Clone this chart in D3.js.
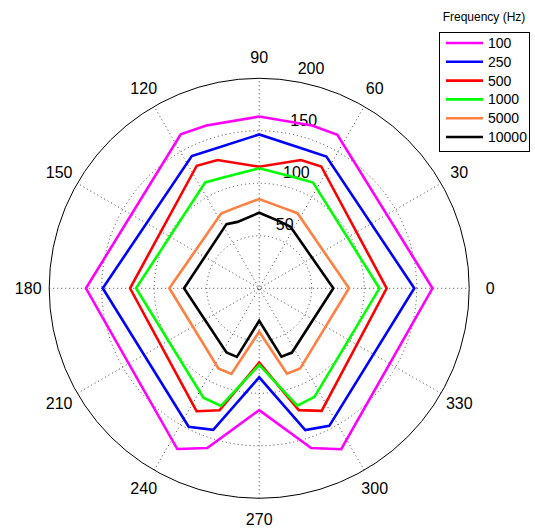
<!DOCTYPE html>
<html>
<head>
<meta charset="utf-8">
<script src="https://cdn.jsdelivr.net/npm/d3@7"></script>
<style>
html,body{margin:0;padding:0;background:#fff;}
svg{display:block;}
text{font-family:"Liberation Sans",Arial,Helvetica,sans-serif;fill:#000;}
</style>
</head>
<body>
<svg id="chart" width="535" height="528"></svg>
<script>
// ---- data ----
const anglesDeg = [0, 63, 72, 90, 108, 117, 180, 243, 252, 270, 288, 297];
const frequencies = ["100", "250", "500", "1000", "5000", "10000"];
const seriesColors = ["#ff00ff", "#0000ff", "#ff0000", "#00ff00", "#ff8040", "#000000"];
const r100   = [165, 164, 163, 163.6, 163, 164.6, 165, 171.8, 160, 116, 160, 172];
const r250   = [147.7, 140.9, 139.2, 146.5, 139.5, 141.4, 149, 148, 141.8, 84.8, 142, 147];
const r500   = [121.4, 130.2, 128.4, 115.8, 128.4, 131, 123, 131.4, 122.2, 70.8, 122, 131];
const r1000  = [114.5, 113, 111, 114.3, 111, 113.2, 117.3, 117, 117.8, 73, 117.5, 116];
const r5000  = [85.5, 80.3, 79.8, 85, 79.8, 79.9, 85.6, 85.6, 85.7, 41.3, 85.5, 85.8];
const r10000 = [70.6, 65.7, 66.5, 72, 66.5, 68.6, 71.6, 68.6, 68.7, 30.9, 68.5, 68.7];
const seriesValues = [r100, r250, r500, r1000, r5000, r10000];
const ringTicks = [50, 100, 150, 200];
const spokeAngles = [0, 30, 60, 90, 120, 150, 180, 210, 240, 270, 300, 330];
const legendTitle = "Frequency (Hz)";

// ---- layout ----
const cx = 259.2, cy = 288.3, R = 210;
const rMax = 200;
const svg = d3.select("#chart");
const rScale = d3.scaleLinear().domain([0, rMax]).range([0, R]);
const toRad = d => d * Math.PI / 180;
const g = svg.append("g").attr("transform", `translate(${cx},${cy})`);

// grid rings
g.selectAll("circle.ring").data(ringTicks.filter(t => t < rMax)).enter()
  .append("circle").attr("class", "ring")
  .attr("r", d => rScale(d)).attr("fill", "none")
  .attr("stroke", "#444").attr("stroke-width", 1).attr("stroke-dasharray", "1,3");
// spokes
g.selectAll("line.spoke").data(spokeAngles.filter(a => a < 180)).enter()
  .append("line").attr("class", "spoke")
  .attr("x1", d => -R * Math.cos(toRad(d))).attr("y1", d => R * Math.sin(toRad(d)))
  .attr("x2", d => R * Math.cos(toRad(d))).attr("y2", d => -R * Math.sin(toRad(d)))
  .attr("stroke", "#444").attr("stroke-width", 1).attr("stroke-dasharray", "1,3");
// outer circle
g.append("circle").attr("r", rScale(rMax)).attr("fill", "none")
  .attr("stroke", "#000").attr("stroke-width", 1);

// radial labels at 82 deg
const a82 = toRad(82);
g.selectAll("text.rlab").data(ringTicks).enter()
  .append("text").attr("class", "rlab")
  .attr("x", d => rScale(d + rMax / 4 / 20) * Math.cos(a82) + 8.9)
  .attr("y", d => -rScale(d + rMax / 4 / 20) * Math.sin(a82) - 3.6)
  .attr("font-size", 16).attr("text-anchor", "start")
  .text(d => d);

// angle labels
g.selectAll("text.alab").data(spokeAngles).enter()
  .append("text").attr("class", "alab")
  .attr("x", d => 1.1 * R * Math.cos(toRad(d)))
  .attr("y", d => -1.1 * R * Math.sin(toRad(d)))
  .attr("dy", "0.35em")
  .attr("font-size", 16).attr("text-anchor", "middle")
  .text(d => d);

// series
const line = d3.lineRadial()
  .angle(d => toRad(90 - d.a))
  .radius(d => rScale(d.v))
  .curve(d3.curveLinearClosed);
seriesValues.forEach((vals, i) => {
  const pts = anglesDeg.map((a, j) => ({a: a, v: vals[j]}));
  g.append("path").attr("d", line(pts)).attr("fill", "none")
    .attr("stroke", seriesColors[i]).attr("stroke-width", 2.6)
    .attr("stroke-linejoin", "miter");
});

// legend
const lx = 439, ly = 32, lw = 90, lh = 119;
svg.append("text").attr("x", lx + lw / 2).attr("y", 21)
  .attr("font-size", 12).attr("text-anchor", "middle").text(legendTitle);
svg.append("rect").attr("x", lx + 0.5).attr("y", ly + 0.5).attr("width", lw).attr("height", lh)
  .attr("fill", "#fff").attr("stroke", "#000").attr("stroke-width", 1);
const legY = d3.scalePoint().domain(frequencies).range([43, 137]);
frequencies.forEach((f, i) => {
  const y = legY(f);
  svg.append("line").attr("x1", 446).attr("x2", 483).attr("y1", y).attr("y2", y)
    .attr("stroke", seriesColors[i]).attr("stroke-width", 2.6);
  svg.append("text").attr("x", 488).attr("y", y + 5).attr("font-size", 14).text(f);
});
</script>
</body>
</html>
